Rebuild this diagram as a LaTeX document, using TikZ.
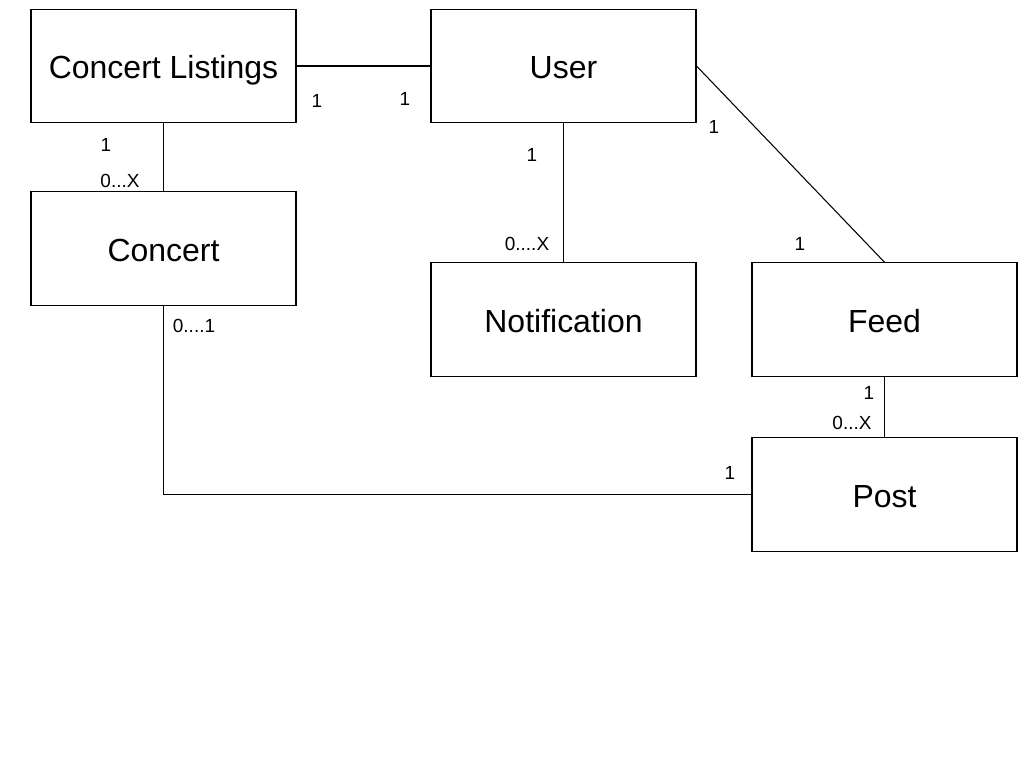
\documentclass[tikz,border=0pt]{standalone}
\usepackage{fontspec}
\setmainfont{Liberation Sans}
\usepackage{tikz}

\begin{document}
\begin{tikzpicture}[
  entity/.style={draw,line width=0.3pt,minimum width=2.65cm,minimum height=1.135cm,inner sep=0pt,text height=0.716em,text depth=0pt,font=\fontsize{9.1}{11}\selectfont},
  mult/.style={inner sep=0pt,font=\fontsize{5.4}{6.5}\selectfont},
  link/.style={line width=0.3pt}]
  \useasboundingbox (0,0) rectangle (10.24,-7.68);
  \node[entity] (listings) at (1.635,-0.66) {Concert Listings};
  \node[entity] (user) at (5.635,-0.66) {User};
  \node[entity] (concert) at (1.635,-2.485) {Concert};
  \node[entity] (notif) at (5.635,-3.195) {Notification};
  \node[entity] (feed) at (8.845,-3.195) {Feed};
  \node[entity] (post) at (8.845,-4.945) {Post};
  % connectors
  \draw[link] (listings.east)--(user.west);
  \draw[link] (listings.south)--(concert.north);
  \draw[link] (user.south)--(notif.north);
  \draw[link] (user.east)--(feed.north);
  \draw[link] (feed.south)--(post.north);
  \draw[link] (concert.south) |- (post.west);
  % multiplicities
  \node[mult] (m1) at (3.17,-1.01) {1};
  \node[mult] (m2) at (4.05,-0.99) {1};
  \node[mult] (m3) at (1.06,-1.45) {1};
  \node[mult] (m4) at (1.20,-1.81) {0...X};
  \node[mult] (m5) at (5.32,-1.55) {1};
  \node[mult] (m6) at (5.27,-2.44) {0....X};
  \node[mult] (m7) at (7.14,-1.27) {1};
  \node[mult] (m8) at (8.00,-2.44) {1};
  \node[mult] (m9) at (8.69,-3.93) {1};
  \node[mult] (m10) at (8.52,-4.23) {0...X};
  \node[mult] (m11) at (1.94,-3.26) {0....1};
  \node[mult] (m12) at (7.30,-4.73) {1};
\end{tikzpicture}
\end{document}
